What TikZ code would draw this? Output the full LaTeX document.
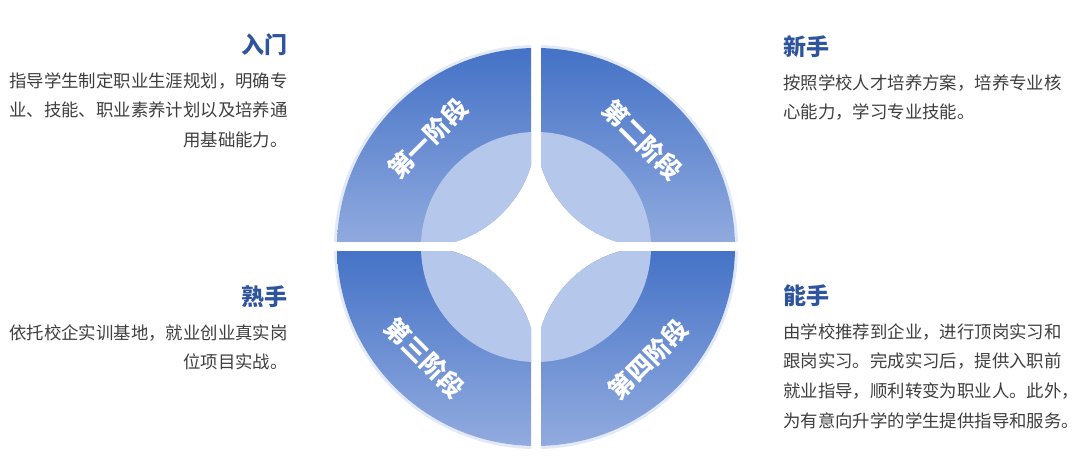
\documentclass[tikz,border=0pt]{standalone}
\usepackage{fontspec}
\setmainfont{Noto Sans CJK SC}
\usetikzlibrary{positioning}

\definecolor{stagetop}{RGB}{68,114,198}
\definecolor{stagebottom}{RGB}{146,171,223}
\definecolor{leaf}{RGB}{181,199,234}
\definecolor{halo}{RGB}{226,233,247}
\definecolor{titleblue}{RGB}{47,84,158}
\definecolor{bodygray}{RGB}{62,62,62}

\tikzset{
    stagetitle/.style={inner sep=0pt, font=\fontsize{23}{26}\selectfont\bfseries, text=titleblue},
    stagetext/.style={inner sep=0pt, font=\fontsize{17.4}{29.7}\selectfont, text=bodygray},
    stagelabel/.style={inner sep=0pt, font=\fontsize{25}{28}\selectfont\bfseries, text=white},
    ring/.style={top color=stagetop, bottom color=stagebottom},
    glow/.style={halo, line width=3pt},
}

\def\Rout{199}
\def\Rin{115}
\def\gap{5}

\begin{document}
\begin{tikzpicture}[x=1pt, y=1pt]
    \useasboundingbox (0,0) rectangle (1080,471);
    \coordinate (hub) at (536,224);

    \begin{scope}[shift={(hub)}]
        % first stage, top left
        \begin{scope}
            \clip (-\gap,\gap) rectangle (-210,210);
            \draw[glow] (0,0) circle[radius=\Rout+1.5];
            \shade[ring] (-\Rout,0) arc[start angle=180, end angle=90, radius=\Rout] -- (0,\Rin) arc[start angle=0, end angle=-90, radius=\Rin] -- cycle;
            \fill[leaf] (-\Rin,0) arc[start angle=-90, end angle=0, radius=\Rin] arc[start angle=90, end angle=180, radius=\Rin] -- cycle;
        \end{scope}
        % second stage, top right
        \begin{scope}
            \clip (\gap,\gap) rectangle (210,210);
            \draw[glow] (0,0) circle[radius=\Rout+1.5];
            \shade[ring] (\Rout,0) arc[start angle=0, end angle=90, radius=\Rout] -- (0,\Rin) arc[start angle=180, end angle=270, radius=\Rin] -- cycle;
            \fill[leaf] (\Rin,0) arc[start angle=270, end angle=180, radius=\Rin] arc[start angle=90, end angle=0, radius=\Rin] -- cycle;
        \end{scope}
        % third stage, bottom left
        \begin{scope}
            \clip (-\gap,-\gap) rectangle (-210,-210);
            \draw[glow] (0,0) circle[radius=\Rout+1.5];
            \shade[ring] (-\Rout,0) arc[start angle=180, end angle=270, radius=\Rout] -- (0,-\Rin) arc[start angle=0, end angle=90, radius=\Rin] -- cycle;
            \fill[leaf] (-\Rin,0) arc[start angle=90, end angle=0, radius=\Rin] arc[start angle=270, end angle=180, radius=\Rin] -- cycle;
        \end{scope}
        % fourth stage, bottom right
        \begin{scope}
            \clip (\gap,-\gap) rectangle (210,-210);
            \draw[glow] (0,0) circle[radius=\Rout+1.5];
            \shade[ring] (\Rout,0) arc[start angle=0, end angle=-90, radius=\Rout] -- (0,-\Rin) arc[start angle=180, end angle=90, radius=\Rin] -- cycle;
            \fill[leaf] (\Rin,0) arc[start angle=90, end angle=180, radius=\Rin] arc[start angle=-90, end angle=0, radius=\Rin] -- cycle;
        \end{scope}

        \node[stagelabel, rotate=45] (stage1) at (135:153) {第一阶段};
        \node[stagelabel, rotate=-45] (stage2) at (45:151) {第二阶段};
        \node[stagelabel, rotate=-45] (stage3) at (225:157) {第三阶段};
        \node[stagelabel, rotate=45] (stage4) at (-45:159) {第四阶段};
    \end{scope}

    % titles
    \node[stagetitle, anchor=east] (rumen) at (288,426) {入门};
    \node[stagetitle, anchor=west] (xinshou) at (783,424) {新手};
    \node[stagetitle, anchor=east] (shushou) at (288,174) {熟手};
    \node[stagetitle, anchor=west] (nengshou) at (783,175) {能手};

    % texts
    \node[stagetext, align=right, below left=16pt and 0pt of rumen.south east] (rumentext) {指导学生制定职业生涯规划，明确专\\业、技能、职业素养计划以及培养通\\用基础能力。};
    \node[stagetext, align=left, below right=16pt and 0pt of xinshou.south west] (xinshoutext) {按照学校人才培养方案，培养专业核\\心能力，学习专业技能。};
    \node[stagetext, align=right, below left=16pt and 0pt of shushou.south east] (shushoutext) {依托校企实训基地，就业创业真实岗\\位项目实战。};
    \node[stagetext, align=left, below right=16pt and 0pt of nengshou.south west] (nengshoutext) {由学校推荐到企业，进行顶岗实习和\\跟岗实习。完成实习后，提供入职前\\就业指导，顺利转变为职业人。此外，\\为有意向升学的学生提供指导和服务。};
\end{tikzpicture}
\end{document}
